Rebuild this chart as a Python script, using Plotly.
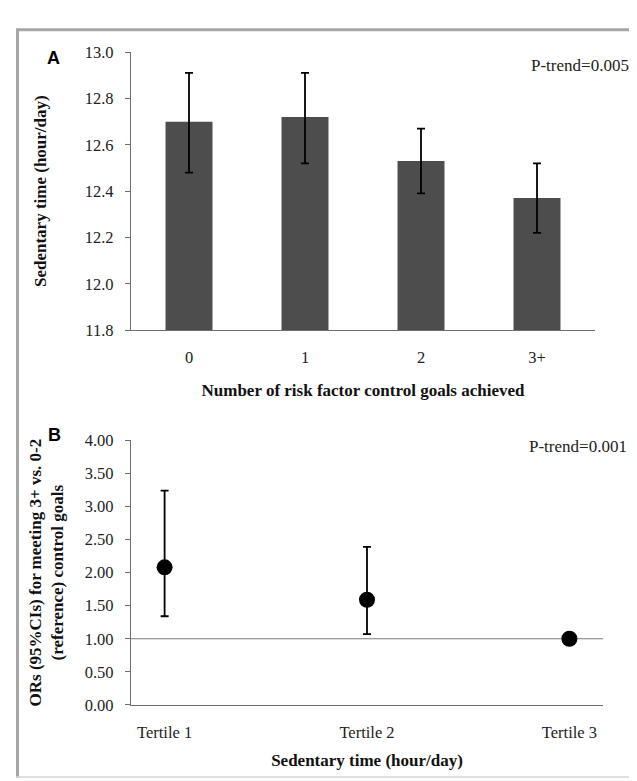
import plotly.graph_objects as go

# ---- Data ----
goal_categories = ["0", "1", "2", "3+"]
sed_mean = [12.70, 12.72, 12.53, 12.37]
sed_lower = [12.48, 12.52, 12.39, 12.22]
sed_upper = [12.91, 12.91, 12.67, 12.52]

tertile_categories = ["Tertile 1", "Tertile 2", "Tertile 3"]
or_value = [2.08, 1.59, 1.00]
or_lower = [1.34, 1.07, None]
or_upper = [3.24, 2.39, None]
reference_or = 1.0

W, H = 637, 781


def px_x(x):
    return x / W


def px_y(y):
    return 1 - y / H


SERIF = "Liberation Serif"
SANS = "Liberation Sans"
AXIS_COLOR = "#6e6e6e"

fig = go.Figure()

fig.add_trace(go.Bar(
    x=goal_categories, y=sed_mean,
    marker=dict(color="#4d4d4d", line=dict(width=0)),
    error_y=dict(type="data", symmetric=False,
                 array=[u - m for u, m in zip(sed_upper, sed_mean)],
                 arrayminus=[m - l for m, l in zip(sed_mean, sed_lower)],
                 color="black", thickness=1.8, width=4),
    xaxis="x", yaxis="y", showlegend=False,
))

fig.add_trace(go.Scatter(
    x=tertile_categories, y=or_value, mode="markers",
    marker=dict(color="black", size=16, symbol="circle"),
    error_y=dict(type="data", symmetric=False,
                 array=[(u - v) if u is not None else 0 for u, v in zip(or_upper, or_value)],
                 arrayminus=[(v - l) if l is not None else 0 for v, l in zip(or_value, or_lower)],
                 color="black", thickness=1.8, width=4),
    xaxis="x2", yaxis="y2", showlegend=False,
))

tick_font = dict(family=SERIF, size=16.5, color="#222222")
title_font = dict(family=SERIF, size=17, color="#111111")

fig.update_layout(
    width=W, height=H,
    margin=dict(l=0, r=0, t=0, b=0),
    paper_bgcolor="white", plot_bgcolor="white",
    bargap=0.595,
    xaxis=dict(
        domain=[px_x(123), px_x(587)], anchor="y",
        type="category", showline=True, linecolor=AXIS_COLOR, linewidth=1.3,
        ticks="", tickfont=tick_font, ticklabelstandoff=12,
        showgrid=False, zeroline=False,
        title=dict(text="<b>Number of risk factor control goals achieved</b>",
                   font=title_font, standoff=17),
    ),
    yaxis=dict(
        domain=[px_y(321), px_y(36)], anchor="x",
        range=[11.8, 13.0], tickvals=[11.8, 12.0, 12.2, 12.4, 12.6, 12.8, 13.0],
        tickformat=".1f",
        showline=True, linecolor=AXIS_COLOR, linewidth=1.3,
        ticks="outside", ticklen=5, tickcolor=AXIS_COLOR, tickwidth=1.3,
        tickfont=tick_font, ticklabelstandoff=8,
        showgrid=False, zeroline=False,
        title=dict(text="<b>Sedentary time (hour/day)</b>", font=title_font, standoff=33),
    ),
    xaxis2=dict(
        domain=[px_x(123), px_x(595)], anchor="y2",
        type="category", showline=True, linecolor=AXIS_COLOR, linewidth=1.3,
        ticks="", tickfont=tick_font, ticklabelstandoff=12,
        showgrid=False, zeroline=False,
        title=dict(text="<b>Sedentary time (hour/day)</b>", font=title_font, standoff=13),
    ),
    yaxis2=dict(
        domain=[px_y(705), px_y(434)], anchor="x2",
        range=[0, 4.0], tickvals=[0, 0.5, 1.0, 1.5, 2.0, 2.5, 3.0, 3.5, 4.0],
        tickformat=".2f",
        showline=True, linecolor=AXIS_COLOR, linewidth=1.3,
        ticks="outside", ticklen=5, tickcolor=AXIS_COLOR, tickwidth=1.3,
        tickfont=tick_font, ticklabelstandoff=8,
        showgrid=False, zeroline=False,
        title=dict(text="<b>ORs (95%CIs) for meeting 3+ vs. 0-2<br>(reference) control goals</b>",
                   font=title_font, standoff=16),
    ),
)

# reference line at OR = 1
fig.add_shape(type="line", xref="x2 domain", yref="y2", x0=0, x1=1,
              y0=reference_or, y1=reference_or,
              line=dict(color="#7a7a7a", width=1.2), layer="below")

# frame around the figure
frame_dark = "#a6a6a6"
frame_light = "#d4d4d4"
fig.add_shape(type="line", xref="paper", yref="paper",
              x0=px_x(8), x1=px_x(636), y0=px_y(13), y1=px_y(13),
              line=dict(color=frame_dark, width=3))
fig.add_shape(type="line", xref="paper", yref="paper",
              x0=px_x(9.5), x1=px_x(9.5), y0=px_y(12), y1=px_y(780),
              line=dict(color=frame_dark, width=3))
fig.add_shape(type="line", xref="paper", yref="paper",
              x0=px_x(635), x1=px_x(635), y0=px_y(12), y1=px_y(780),
              line=dict(color=frame_light, width=1.5))
fig.add_shape(type="line", xref="paper", yref="paper",
              x0=px_x(8), x1=px_x(636), y0=px_y(779), y1=px_y(779),
              line=dict(color=frame_light, width=1.5))

# panel letters and p-trend labels
fig.add_annotation(text="<b>A</b>", xref="paper", yref="paper",
                   x=px_x(45), y=px_y(42), xanchor="center", yanchor="middle",
                   showarrow=False, font=dict(family=SANS, size=18, color="black"))
fig.add_annotation(text="<b>B</b>", xref="paper", yref="paper",
                   x=px_x(46), y=px_y(428), xanchor="center", yanchor="middle",
                   showarrow=False, font=dict(family=SANS, size=18, color="black"))
fig.add_annotation(text="P-trend=0.005", xref="paper", yref="paper",
                   x=px_x(623), y=px_y(50), xanchor="right", yanchor="middle",
                   showarrow=False, font=dict(family=SERIF, size=17, color="#222222"))
fig.add_annotation(text="P-trend=0.001", xref="paper", yref="paper",
                   x=px_x(621), y=px_y(440), xanchor="right", yanchor="middle",
                   showarrow=False, font=dict(family=SERIF, size=17, color="#222222"))

fig.write_html("out.html")
